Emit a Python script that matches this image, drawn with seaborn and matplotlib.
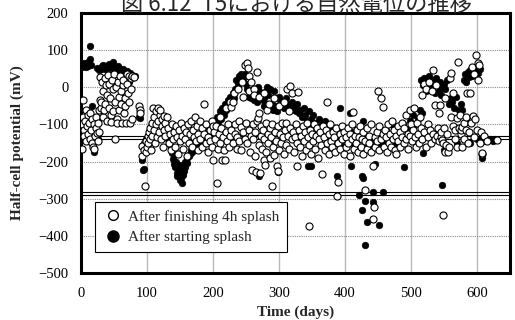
import matplotlib
matplotlib.use("Agg")
import matplotlib.pyplot as plt
import seaborn as sns
import pandas as pd
from matplotlib.lines import Line2D

# ---------------- data ----------------
title_text = "図 6.12  T5における自然電位の推移"
x_ticks = [0, 100, 200, 300, 400, 500, 600]
y_ticks = [-500, -400, -300, -200, -100, 0, 100, 200]
threshold_pairs = [(-131, -138), (-282, -289)]
legend_labels = ["After finishing 4h splash", "After starting splash"]

# "After starting splash" (filled circles): (day, mV)
start_0_90 = [(1,55),(2,62),(3,58),(4,66),(5,56),(6,60),(7,64),(8,55),(9,60),(10,68),(11,57),(12,62),
    (13,111),(14,75),(15,60),(17,-50),(19,-120),(20,-175),(22,-95),(24,52),(25,-140),(28,46),(30,50),
    (32,56),(34,60),(36,48),(38,54),(40,58),(42,62),(44,52),(46,57),(48,68),(50,55),(52,50),(54,44),
    (56,58),(58,52),(60,47),(62,40),(64,50),(66,42),(68,36),(70,44),(72,14),(74,38),(76,30),(78,32),
    (80,28),(82,30),(88,-80),(89,-84)]
start_90_180 = [(92,-195),(94,-222),(95,-219),(96,-150),(98,-140),(100,-165),(102,-130),(104,-120),
    (106,-110),(108,-95),(110,-100),(112,-80),(114,-75),(116,-85),(118,-78),(120,-90),(122,-85),
    (125,-100),(128,-115),(130,-120),(132,-140),(134,-150),(136,-160),(138,-178),(140,-192),(141,-206),
    (142,-215),(144,-200),(145,-230),(146,-240),(148,-222),(150,-250),(151,-210),(152,-245),(153,-258),
    (155,-235),(156,-225),(157,-200),(158,-215),(160,-190),(161,-205),(163,-185),(165,-180),(166,-170),
    (168,-175),(170,-160),(172,-150),(174,-165),(176,-140),(178,-150),(180,-135)]
start_180_320 = [(182,-150),(183,-120),(186,-135),(187,-105),(190,-125),(192,-145),(194,-110),
    (196,-130),(198,-100),(200,-120),(202,-90),(204,-110),(206,-80),(208,-95),(210,-65),(212,-85),
    (214,-55),(216,-75),(218,-45),(220,-60),(222,-35),(224,-50),(226,-25),(228,-40),(230,-15),
    (232,-30),(234,-5),(235,20),(238,5),(239,30),(242,15),(243,35),(246,20),(248,35),(250,10),
    (252,-5),(254,-25),(256,-10),(258,-30),(260,-15),(262,-35),(264,-5),(266,-40),(268,0),(270,-10),
    (270,-238),(272,-25),(275,-35),(277,-50),(278,-30),(280,-10),(282,0),(284,-20),(285,-150),
    (287,-5),(289,-45),(291,-60),(293,-10),(295,-50),(297,-65),(298,-229),(300,-25),(302,-35),
    (305,-40),(308,-55),(310,-30),(312,-45),(315,-50),(318,-60),(320,-40)]
start_320_500 = [(322,-55),(325,-65),(328,-45),(330,-70),(332,-60),(335,-80),(338,-55),(340,-75),
    (342,-90),(344,-211),(345,-65),(348,-85),(349,-211),(350,-100),(352,-75),(355,-95),(358,-110),
    (360,-85),(362,-120),(365,-100),(368,-130),(370,-90),(372,-115),(375,-140),(378,-105),(380,-125),
    (383,-150),(385,-110),(388,-240),(390,-130),(392,-57),(394,-145),(396,-120),(398,-160),(402,-130),
    (405,-145),(408,-70),(409,-213),(410,-120),(412,-150),(415,-135),(418,-160),(420,-125),(421,-289),
    (424,-140),(425,-240),(426,-330),(427,-90),(428,-245),(430,-305),(431,-424),(432,-150),(434,-364),
    (436,-130),(440,-155),(442,-281),(443,-310),(445,-206),(446,-140),(448,-120),(451,-370),(452,-150),
    (455,-130),(457,-281),(460,-145),(462,-115),(465,-160),(468,-125),(470,-140),(474,-110),(478,-150),
    (480,-120),(484,-135),(488,-100),(489,-215),(490,-145),(494,-115),(498,-90),(500,-130)]
start_500_640 = [(503,-75),(506,-100),(510,-85),(513,-60),(515,20),(516,-70),(518,-178),(518,5),
    (520,25),(522,-10),(524,15),(526,0),(528,30),(530,-5),(532,20),(534,10),(536,-15),(538,25),(540,5),
    (542,-10),(544,15),(546,-20),(547,-262),(548,0),(550,-170),(550,10),(552,-5),(555,20),(556,-160),
    (558,-46),(560,-30),(562,-40),(565,-55),(568,-25),(570,-150),(572,-60),(575,-45),(578,-62),(580,20),
    (582,35),(584,14),(586,40),(588,28),(590,46),(590,-150),(592,30),(594,50),(596,40),(598,45),
    (600,55),(600,-140),(602,38),(604,48),(607,-190),(608,-140),(612,-145),(615,-138),(618,-142),
    (620,-140),(624,-145),(628,-140)]

# "After finishing 4h splash" (open circles): (day, mV)
finish_0_90 = [(1,-165),(2,-100),(3,-80),(3,-35),(4,-116),(5,-130),(6,-90),(7,-60),(8,-145),(9,-105),
    (10,-75),(11,-125),(12,-95),(13,-140),(14,-70),(15,-115),(16,-85),(17,-150),(18,-162),(19,-165),
    (20,-100),(21,-130),(22,-80),(23,-110),(24,-124),(25,-145),(26,-95),(27,-60),(28,-120),(29,28),
    (29,-35),(30,-57),(31,-40),(32,15),(33,-80),(34,-10),(35,-62),(36,25),(37,-45),(38,5),(39,-90),
    (40,-20),(41,32),(42,-55),(43,10),(44,-30),(45,-75),(46,-94),(47,20),(48,-5),(49,-65),(50,35),
    (51,-138),(52,-40),(53,0),(54,-85),(55,-95),(56,15),(57,-25),(58,-60),(59,30),(60,-10),(61,-45),
    (62,-97),(63,5),(64,20),(65,-70),(66,-30),(67,-50),(68,-95),(69,10),(70,35),(71,-15),(72,30),
    (73,-40),(74,-97),(75,25),(76,-5),(77,-85),(78,30),(80,28),(88,-50),(89,-60),(90,-70)]
finish_90_180 = [(92,-184),(93,-157),(95,-170),(97,-265),(98,-175),(99,-145),(100,-160),(101,-130),
    (102,-150),(103,-120),(104,-140),(105,-110),(106,-170),(107,-95),(108,-130),(109,-57),(110,-115),
    (111,-80),(112,-150),(113,-100),(114,-65),(115,-135),(116,-55),(117,-90),(118,-120),(119,-75),
    (120,-60),(121,-140),(122,-105),(123,-85),(124,-160),(125,-76),(126,-115),(127,-130),(128,-95),
    (130,-80),(132,-110),(133,-150),(135,-125),(136,-170),(138,-100),(139,-140),(141,-120),(142,-160),
    (144,-105),(145,-135),(147,-180),(148,-115),(150,-145),(151,-95),(153,-130),(154,-165),(156,-110),
    (157,-140),(159,-120),(160,-185),(162,-100),(163,-150),(165,-125),(166,-90),(168,-160),(169,-115),
    (171,-135),(172,-80),(174,-145),(175,-105),(177,-170),(178,-125),(180,-90)]
finish_180_320 = [(181,-140),(183,-110),(184,-160),(186,-125),(187,-46),(189,-150),(190,-100),
    (192,-135),(193,-175),(195,-115),(196,-145),(198,-90),(199,-160),(200,-195),(200,-105),(201,-120),
    (203,-140),(204,-105),(206,-257),(207,-165),(209,-125),(210,-150),(210,-80),(212,-110),(213,-195),
    (215,-135),(216,-170),(218,-195),(219,-120),(220,-55),(221,-145),(222,-100),(224,-160),(225,-130),
    (226,-40),(227,-54),(228,-115),(230,-150),(231,-40),(232,-15),(233,-125),(234,-100),(236,-165),
    (237,-135),(238,-5),(239,-90),(240,-145),(242,-108),(243,-170),(244,15),(245,-120),(246,-27),
    (248,-140),(249,60),(250,-95),(251,65),(252,-150),(253,51),(254,-115),(255,30),(255,-10),
    (256,-175),(257,-130),(258,15),(259,-224),(260,-100),(261,-140),(262,-5),(262,-20),(263,-185),
    (264,-120),(265,-228),(266,-90),(267,40),(268,-84),(269,-155),(270,-70),(270,-25),(271,-232),
    (272,-130),(273,-105),(274,-165),(276,-115),(277,-195),(278,-140),(278,-15),(279,-210),(280,-95),
    (281,-175),(282,-60),(283,-125),(284,-150),(285,-45),(286,-110),(287,-190),(288,-135),(289,-265),
    (290,-100),(291,-160),(292,-30),(293,-183),(294,-120),(296,-145),(297,-213),(298,-225),(299,-105),
    (300,-170),(300,-50),(301,-125),(303,-150),(304,-95),(306,-135),(307,-180),(308,-40),(309,-115),
    (310,-95),(311,-155),(312,-5),(313,-130),(315,-165),(315,-65),(316,3),(317,-110),(319,-140),(320,-16)]
finish_320_500 = [(321,-120),(322,-175),(324,-135),(325,-100),(327,-211),(328,-150),(329,-12),
    (330,-115),(332,-160),(333,-130),(335,-185),(336,-105),(338,-145),(339,-120),(341,-170),(342,-95),
    (344,-135),(345,-155),(346,-373),(347,-115),(349,-180),(350,-125),(352,-145),(353,-100),(355,-165),
    (356,-130),(358,-110),(359,-190),(361,-140),(362,-120),(364,-155),(365,-233),(366,-105),(368,-135),
    (369,-170),(371,-115),(372,-40),(373,-150),(375,-125),(376,-180),(378,-100),(379,-145),(381,-160),
    (382,-120),(384,-135),(385,-175),(387,-110),(388,-294),(389,-256),(390,-150),(392,-125),(393,-165),
    (395,-105),(396,-140),(398,-180),(399,-120),(401,-135),(402,-160),(404,-110),(405,-150),(407,-125),
    (408,-185),(410,-140),(411,-100),(412,-67),(413,-165),(415,-130),(416,-150),(418,-115),(419,-175),
    (421,-135),(422,-105),(424,-160),(425,-140),(427,-120),(428,-180),(430,-276),(431,-145),(433,-110),
    (434,-165),(436,-130),(437,-150),(439,-100),(440,-175),(442,-355),(443,-211),(444,-321),(445,-135),
    (446,-160),(448,-120),(449,-145),(450,-11),(451,-170),(452,-105),(454,-30),(455,-140),(457,-125),
    (458,-54),(459,-160),(461,-115),(462,-135),(464,-175),(465,-100),(467,-150),(468,-125),(470,-160),
    (471,-90),(473,-140),(474,-115),(476,-170),(477,-130),(478,-180),(480,-105),(481,-145),(483,-120),
    (484,-160),(486,-95),(487,-135),(489,-150),(490,-110),(492,-75),(493,-140),(495,-125),(496,-165),
    (498,-60),(499,-130),(500,-100)]
finish_500_640 = [(502,-145),(503,-115),(505,-55),(506,-135),(507,-160),(509,-95),(510,-125),
    (512,-150),(513,-80),(515,-110),(516,-20),(517,-140),(519,10),(520,-120),(522,-160),(523,-5),
    (525,-100),(526,-135),(528,15),(529,-115),(531,-150),(532,-10),(533,46),(534,-125),(536,-140),
    (537,-49),(538,5),(540,-130),(541,-110),(542,-145),(543,-70),(544,-49),(545,-135),(546,-120),
    (547,-143),(548,-344),(549,-150),(550,-110),(551,-30),(552,-175),(553,-155),(555,-125),(556,-175),
    (557,-162),(559,24),(560,38),(561,-80),(563,-16),(564,-105),(566,-140),(567,-115),(569,-160),
    (570,-84),(571,67),(572,-110),(574,-75),(575,-125),(576,-115),(577,-160),(578,-108),(580,-140),
    (581,-95),(583,-116),(584,-80),(585,-16),(587,-150),(588,-120),(590,-16),(591,-95),(592,54),
    (594,-76),(595,35),(596,-135),(597,-86),(598,86),(600,-115),(601,65),(602,20),(603,60),(605,-150),
    (606,-120),(607,-180),(608,-178),(610,-130),(615,-145),(630,-143)]

start_pts = start_0_90 + start_90_180 + start_180_320 + start_320_500 + start_500_640
finish_pts = finish_0_90 + finish_90_180 + finish_180_320 + finish_320_500 + finish_500_640
df_start = pd.DataFrame(start_pts, columns=["day", "mv"])
df_finish = pd.DataFrame(finish_pts, columns=["day", "mv"])

# ---------------- figure ----------------
sns.set_style("white")
plt.rcParams["font.family"] = ["Liberation Serif", "Noto Sans CJK JP"]

fig = plt.figure(figsize=(5.15, 3.2), dpi=100)
ax = fig.add_axes([81/515, 47/320, 429/515, 260/320])

ax.set_xlim(0, 650)
ax.set_ylim(-500, 200)
ax.set_xticks(x_ticks)
ax.set_yticks(y_ticks)
ax.grid(axis="x", color="#b8b8b8", lw=1.0, ls="-")
ax.grid(axis="y", color="#8c8c8c", lw=0.8, ls=(0, (1, 1)))
ax.set_axisbelow(True)

for pair in threshold_pairs:
    for yv in pair:
        ax.axhline(yv, color="black", lw=0.8, zorder=2)

sns.scatterplot(data=df_start, x="day", y="mv", color="black", edgecolor="black",
                s=22, linewidth=0.5, ax=ax, zorder=3, legend=False)
sns.scatterplot(data=df_finish, x="day", y="mv", color="white", edgecolor="black",
                s=26, linewidth=0.8, ax=ax, zorder=4, legend=False)

for sp in ax.spines.values():
    sp.set_color("black")
    sp.set_linewidth(2.2)

ax.tick_params(axis="both", length=0, labelsize=10.5, colors="black")
ax.tick_params(axis="y", pad=9)
ax.tick_params(axis="x", pad=10)
ax.set_xlabel("Time (days)", fontsize=11, fontweight="bold", labelpad=4)
ax.set_ylabel("Half-cell potential (mV)", fontsize=11, fontweight="bold", labelpad=10)

handles = [
    Line2D([], [], marker="o", ls="", mfc="white", mec="black", ms=7, mew=1.0),
    Line2D([], [], marker="o", ls="", mfc="black", mec="black", ms=8, mew=1.0),
]
leg = ax.legend(handles, legend_labels, loc="lower left", bbox_to_anchor=(0.033, 0.081),
                borderaxespad=0, fontsize=11, frameon=True, fancybox=False, framealpha=1,
                edgecolor="black", handletextpad=0.35, borderpad=0.5, labelspacing=0.45,
                handlelength=1.3)
leg.get_frame().set_linewidth(0.8)
leg.set_zorder(6)

fig.text(0.575, 1 - 11/320, title_text, ha="center", va="baseline", fontsize=16,
         family=["Noto Sans CJK JP", "DejaVu Sans"])

fig.savefig("out.png", dpi=100)
